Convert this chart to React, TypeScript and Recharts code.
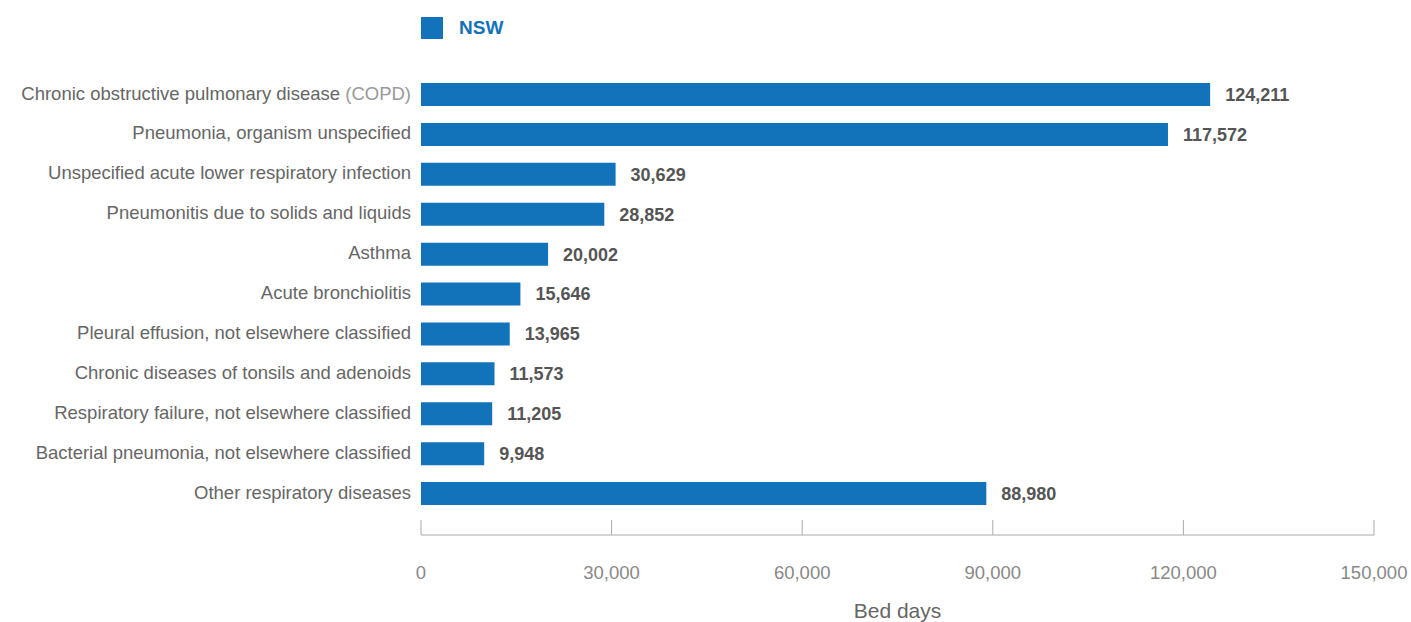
import { BarChart, Bar, XAxis, YAxis, Legend, LabelList } from 'recharts'

const categories = [
  'Chronic obstructive pulmonary disease (COPD)',
  'Pneumonia, organism unspecified',
  'Unspecified acute lower respiratory infection',
  'Pneumonitis due to solids and liquids',
  'Asthma',
  'Acute bronchiolitis',
  'Pleural effusion, not elsewhere classified',
  'Chronic diseases of tonsils and adenoids',
  'Respiratory failure, not elsewhere classified',
  'Bacterial pneumonia, not elsewhere classified',
  'Other respiratory diseases',
]

const nswBedDays = [124211, 117572, 30629, 28852, 20002, 15646, 13965, 11573, 11205, 9948, 88980]

const xTicks = [0, 30000, 60000, 90000, 120000, 150000]

const data = categories.map((name, i) => ({ name, nsw: nswBedDays[i] }))

const BLUE = '#1272ba'
const FONT = '"Liberation Sans", Arial, sans-serif'
const fmt = (v: number) => v.toLocaleString('en-US')

function CategoryTick({ x, y, payload }: any) {
  const label: string = payload.value
  const m = label.match(/^(.*?)(\s\(.*\))$/)
  return (
    <text x={x} y={y - 2} dy="0.355em" textAnchor="end" fontSize={18.5} fontFamily={FONT} fill="#666">
      {m ? (
        <>
          <tspan>{m[1]}</tspan>
          <tspan fill="#999">{m[2]}</tspan>
        </>
      ) : (
        label
      )}
    </text>
  )
}

function ValueTick({ x, y, payload }: any) {
  return (
    <g>
      <line x1={x} x2={x} y1={y - 15} y2={y} stroke="#aaa" strokeWidth={1} />
      <text x={x} y={y + 44} textAnchor="middle" fontSize={18.5} fontFamily={FONT} fill="#888">
        {fmt(payload.value)}
      </text>
    </g>
  )
}

function LegendContent() {
  return (
    <div style={{ display: 'flex', alignItems: 'center', height: 22, paddingBottom: 36, fontFamily: FONT }}>
      <span style={{ width: 22, height: 22, background: BLUE, display: 'inline-block' }} />
      <span style={{ marginLeft: 16, color: BLUE, fontWeight: 700, fontSize: 19, lineHeight: '22px' }}>NSW</span>
    </div>
  )
}

export default function App() {
  return (
    <>
      <style>{'body { margin: 0; overflow: hidden; }'}</style>
      <BarChart
        width={1411}
        height={622}
        data={data}
        layout="vertical"
        margin={{ top: 17, right: 37, bottom: 0, left: 0 }}
      >
        <Legend
          verticalAlign="top"
          align="left"
          content={<LegendContent />}
          wrapperStyle={{ top: 17, left: 421, width: 200 }}
        />
        <XAxis
          type="number"
          domain={[0, 150000]}
          ticks={xTicks}
          height={87}
          axisLine={{ stroke: '#aaa' }}
          tickLine={false}
          tickSize={0}
          tickMargin={0}
          tick={<ValueTick />}
          label={{ value: 'Bed days', position: 'insideBottom', offset: 4, fontSize: 21, fill: '#666', fontFamily: FONT }}
        />
        <YAxis
          type="category"
          dataKey="name"
          width={421}
          axisLine={false}
          tickLine={false}
          tickSize={0}
          tickMargin={10}
          padding={{ top: 0, bottom: 21 }}
          interval={0}
          tick={<CategoryTick />}
        />
        <Bar dataKey="nsw" name="NSW" fill={BLUE} barSize={23} isAnimationActive={false}>
          <LabelList
            dataKey="nsw"
            position="right"
            offset={15}
            formatter={(v: any) => fmt(Number(v))}
            style={{ fontSize: 18, fontWeight: 700, fill: '#555', fontFamily: FONT }}
          />
        </Bar>
      </BarChart>
    </>
  )
}
